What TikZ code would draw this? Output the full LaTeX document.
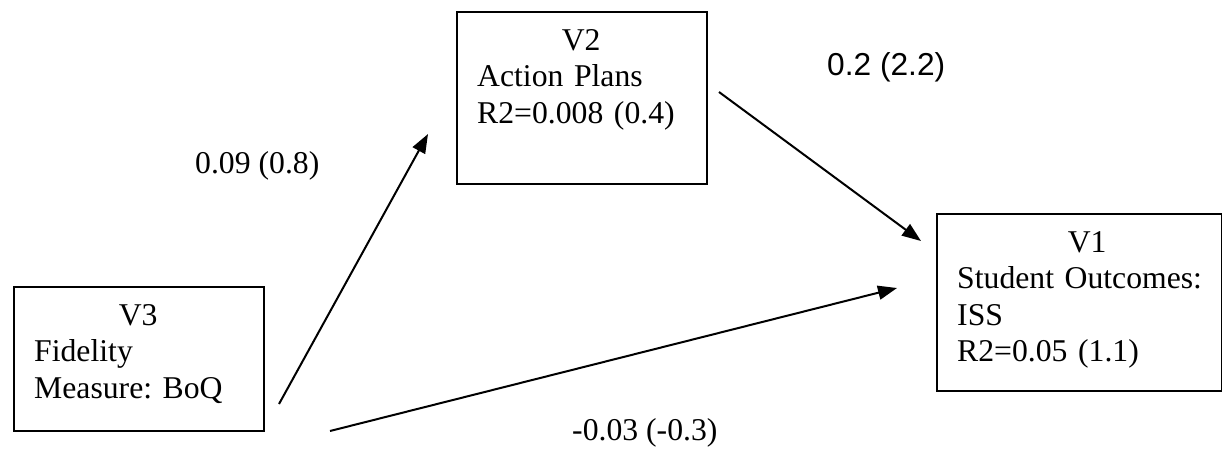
\documentclass[tikz,border=0pt]{standalone}
\usepackage{fontspec}
\setmainfont{Liberation Serif}
\newfontfamily\arialfont{Liberation Sans}
\usetikzlibrary{arrows.meta}
\frenchspacing

\tikzset{
  varbox/.style={draw, line width=1.6pt, inner sep=0pt, anchor=north west},
  vartext/.style={anchor=north west, inner sep=0pt, align=left,
    font=\fontsize{31.7}{36.5}\selectfont},
  coef/.style={anchor=base west, inner sep=0pt, font=\fontsize{31.7}{36.5}\selectfont},
  effect/.style={line width=2pt, -{Triangle[length=19pt,width=14pt]}}
}

\begin{document}
\begin{tikzpicture}[x=1pt, y=-1pt]
  \useasboundingbox (0,0) rectangle (1222,451);
  % V3
  \node[varbox, minimum width=250pt, minimum height=144pt] (v3) at (13,286) {};
  \node[vartext, text width=208pt] (v3t) at ([xshift=21pt,yshift=-18pt]v3.north west)
    {\centering V3\par\raggedright Fidelity\\Measure: BoQ};
  % V2
  \node[varbox, minimum width=250pt, minimum height=172pt] (v2) at (456,11) {};
  \node[vartext, text width=208pt] (v2t) at ([xshift=21pt,yshift=-18pt]v2.north west)
    {\centering V2\par\raggedright Action Plans\\R2=0.008 (0.4)};
  % V1
  \node[varbox, minimum width=285pt, minimum height=177pt] (v1) at (936,213) {};
  \node[vartext, text width=260pt] (v1t) at ([xshift=21pt,yshift=-18pt]v1.north west)
    {\centering V1\par\raggedright Student Outcomes:\\ISS\\R2=0.05 (1.1)};
  % arrow ends
  \coordinate (v3up) at (279,404);
  \coordinate (v2in) at (428,134);
  \coordinate (v2out) at (719,92);
  \coordinate (v1in) at (921,241);
  \coordinate (v3right) at (330,431);
  \coordinate (v1left) at (897,288);
  % paths
  \draw[effect] (v3up) -- (v2in);
  \draw[effect] (v2out) -- (v1in);
  \draw[effect] (v3right) -- (v1left);
  % coefficients
  \node[coef] (c32) at (195,173) {0.09 (0.8)};
  \node[coef, font=\arialfont\fontsize{31.7}{36.5}\selectfont] (c21) at (827,75) {0.2 (2.2)};
  \node[coef] (c31) at (572,440) {-0.03 (-0.3)};
\end{tikzpicture}
\end{document}
